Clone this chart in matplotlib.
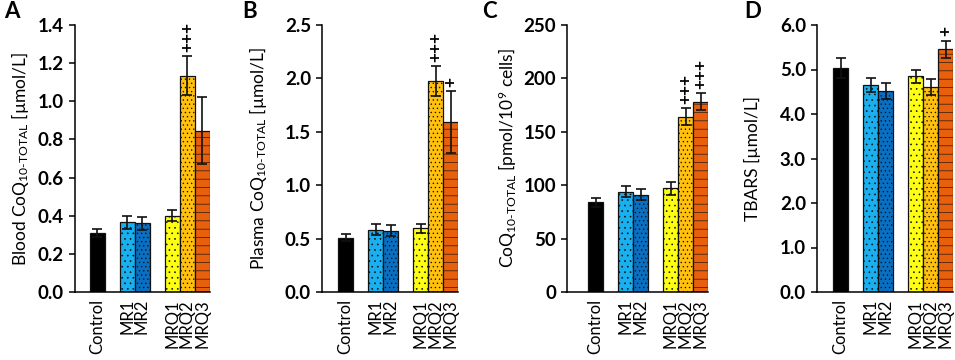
#!/usr/bin/env python3
"""Four bar panels: CoQ10 in blood, plasma, cells and TBARS per group."""

import matplotlib
matplotlib.use("Agg")
import matplotlib.pyplot as plt

plt.rcParams['font.family'] = ['Lato', 'DejaVu Sans']
plt.rcParams['hatch.linewidth'] = 0.45
plt.rcParams['mathtext.default'] = 'regular'

# groups and where they sit on the x axis (gap between groups)
groups = ["Control", "MR1", "MR2", "MRQ1", "MRQ2", "MRQ3"]
x_pos = [0, 2, 3, 5, 6, 7]
colors = ["#000000", "#1AAFEF", "#0A6FC0", "#FFFF14", "#FFC010", "#E85F0C"]
hatches = [None, "...", "....", "...", "....", "--"]

# panel A: blood CoQ10 [umol/L]
blood_mean = [0.31, 0.365, 0.36, 0.40, 1.135, 0.845]
blood_err = [0.02, 0.035, 0.035, 0.03, 0.10, 0.175]
blood_marks = ["", "", "", "", "+++", ""]

# panel B: plasma CoQ10 [umol/L]
plasma_mean = [0.51, 0.585, 0.575, 0.595, 1.975, 1.59]
plasma_err = [0.03, 0.05, 0.05, 0.045, 0.14, 0.29]
plasma_marks = ["", "", "", "", "+++", "+"]

# panel C: cellular CoQ10 [pmol/10^9 cells]
cells_mean = [84, 94, 91, 97, 164, 178]
cells_err = [4, 5, 5, 6, 8, 8]
cells_marks = ["", "", "", "", "+++", "+++"]

# panel D: TBARS [umol/L]
tbars_mean = [5.03, 4.65, 4.52, 4.85, 4.60, 5.45]
tbars_err = [0.23, 0.15, 0.18, 0.15, 0.18, 0.20]
tbars_marks = ["", "", "", "", "", "+"]

panels = [
    dict(letter="A", mean=blood_mean, err=blood_err, marks=blood_marks,
         ylabel="Blood CoQ$_{10\u2010TOTAL}$ [\u00b5mol/L]",
         ymax=1.4, step=0.2, fmt="{:.1f}", box=(75, 209.5), lx=20, tx=4),
    dict(letter="B", mean=plasma_mean, err=plasma_err, marks=plasma_marks,
         ylabel="Plasma CoQ$_{10\u2010TOTAL}$ [\u00b5mol/L]",
         ymax=2.5, step=0.5, fmt="{:.1f}", box=(322, 458), lx=258, tx=242),
    dict(letter="C", mean=cells_mean, err=cells_err, marks=cells_marks,
         ylabel="CoQ$_{10\u2010TOTAL}$ [pmol/10$^{9}$ cells]",
         ymax=250, step=50, fmt="{:.0f}", box=(567, 708), lx=508, tx=482),
    dict(letter="D", mean=tbars_mean, err=tbars_err, marks=tbars_marks,
         ylabel="TBARS [\u00b5mol/L]",
         ymax=6.0, step=1.0, fmt="{:.1f}", box=(817, 953), lx=752, tx=744),
]

W, H = 955, 360
fig = plt.figure(figsize=(W / 100, H / 100), dpi=100)
top_px, bot_px = 25, 292

for p in panels:
    left, right = p["box"]
    ax = fig.add_axes([left / W, 1 - bot_px / H, (right - left) / W,
                       (bot_px - top_px) / H])
    for xi, m, e, c, h in zip(x_pos, p["mean"], p["err"], colors, hatches):
        ax.bar(xi, m, width=1.0, color=c, edgecolor="#111111", linewidth=0.9,
               hatch=h, zorder=2)
        ax.errorbar(xi, m, yerr=e, color="#111111", elinewidth=1.2,
                    capsize=3.5, capthick=1.2, zorder=3)
    for xi, m, e, mk in zip(x_pos, p["mean"], p["err"], p["marks"]):
        if mk:
            ax.annotate(mk, (xi, m + e), xytext=(0, 3), textcoords="offset points",
                        rotation=90, ha="center", va="bottom", fontsize=12.5,
                        fontweight="bold")

    # x range so the first bar sits a bit right of the y axis
    span = right - left
    ax.set_xlim(7.5 - span / 15.0, 7.5)
    ax.set_ylim(0, p["ymax"])
    ticks = [i * p["step"] for i in range(int(round(p["ymax"] / p["step"])) + 1)]
    ax.set_yticks(ticks)
    ax.set_yticklabels([p["fmt"].format(t) for t in ticks], fontsize=13.5,
                       fontweight="bold")
    ax.set_xticks(x_pos)
    ax.set_xticklabels(groups, rotation=90, fontsize=12)
    ax.tick_params(axis="x", length=0, pad=5)
    ax.tick_params(axis="y", length=4, width=1.1, direction="out", pad=4)
    for s in ("top", "right"):
        ax.spines[s].set_visible(False)
    for s in ("left", "bottom"):
        ax.spines[s].set_linewidth(1.1)

    fig.text(p["lx"] / W, 1 - (top_px + bot_px) / 2 / H, p["ylabel"],
             rotation=90, ha="center", va="center", fontsize=12.5)
    fig.text(p["tx"] / W, 1 - 12 / H, p["letter"], ha="left", va="center",
             fontsize=16, fontweight="bold")

fig.savefig("out.png", dpi=100)
